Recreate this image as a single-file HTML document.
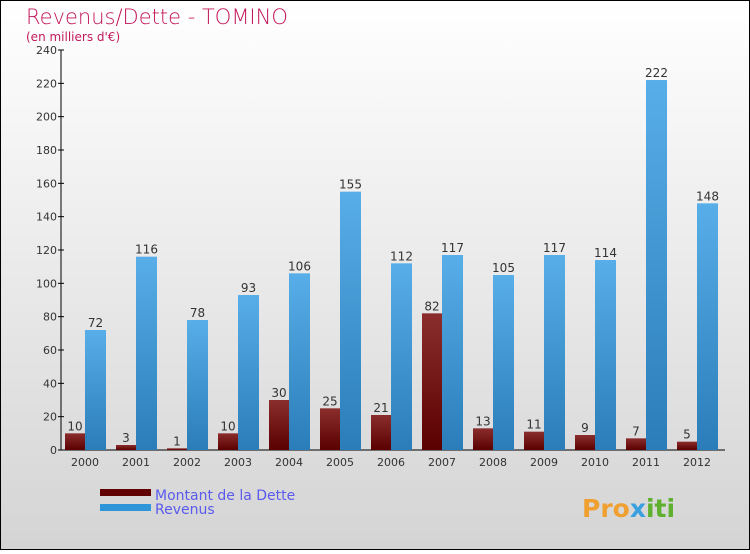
<!DOCTYPE html>
<html><head><meta charset="utf-8"><style>
html,body{margin:0;padding:0}
body{width:750px;height:550px;overflow:hidden;font-family:"DejaVu Sans","Liberation Sans",sans-serif}
</style></head><body>
<svg width="750" height="550" xmlns="http://www.w3.org/2000/svg">
<defs>
<linearGradient id="bg" x1="0" y1="0" x2="0" y2="1"><stop offset="0" stop-color="#ffffff"/><stop offset="1" stop-color="#d4d4d4"/></linearGradient>
<linearGradient id="gd" x1="0" y1="0" x2="0" y2="1"><stop offset="0" stop-color="#8b2d2d"/><stop offset="1" stop-color="#5a0000"/></linearGradient>
<linearGradient id="gr" x1="0" y1="0" x2="0" y2="1"><stop offset="0" stop-color="#58aee8"/><stop offset="1" stop-color="#2a7db8"/></linearGradient>
</defs>
<rect x="0.5" y="0.5" width="749" height="549" fill="url(#bg)" stroke="#000"/>
<text x="26" y="24" font-size="21" fill="#c2185b" style="font-weight:200">Revenus/Dette - TOMINO</text>
<text x="26" y="41" font-size="12" fill="#c2185b">(en milliers d'€)</text>
<g id="axes"></g>
<g id="bars"></g>
<rect x="100" y="489" width="51" height="7" fill="#600000"/>
<rect x="100" y="504" width="51" height="7" fill="#2e95d8"/>
<text x="155" y="500" font-size="14" fill="#5a5aee">Montant de la Dette</text>
<text x="155" y="514" font-size="14" fill="#5a5aee">Revenus</text>
<text x="582" y="517" font-size="25" font-weight="bold" fill="#f0a030">Pro<tspan fill="#3aa0e0">x</tspan><tspan fill="#60b030">iti</tspan></text>
</svg>
<script>
const years=["2000","2001","2002","2003","2004","2005","2006","2007","2008","2009","2010","2011","2012"];
const dette=[10,3,1,10,30,25,21,82,13,11,9,7,5];
const revenus=[72,116,78,93,106,155,112,117,105,117,114,222,148];
const yTicks=[0,20,40,60,80,100,120,140,160,180,200,220,240];
const NS="http://www.w3.org/2000/svg";
const y0=450,pxPer=400/240,x0=85,step=51;
const yS=v=>y0-v*pxPer, xS=i=>x0+i*step;
function mk(tag,attrs,parent,txt){const e=document.createElementNS(NS,tag);for(const k in attrs)e.setAttribute(k,attrs[k]);if(txt!==undefined)e.textContent=txt;parent.appendChild(e);return e;}
const ax=document.getElementById('axes'),bg=document.getElementById('bars');
let l=mk('line',{x1:61,y1:50,x2:61,y2:450,stroke:'#000'},ax);


l=mk('line',{x1:61,y1:450,x2:725,y2:450,stroke:'#000'},ax);


yTicks.forEach(t=>{const y=yS(t);
 const tk=mk('line',{x1:58,y1:y,x2:64,y2:y,stroke:'#000'},ax);
 
 
 const tx=mk('text',{x:57,y:y+4,'font-size':11,'text-anchor':'end',fill:'#333'},ax,t);
 
 });
years.forEach((yr,i)=>{const cx=xS(i);
 const t=mk('text',{x:cx,y:466,'font-size':11,'text-anchor':'middle',fill:'#333'},ax,yr);
 
 
 const d=mk('rect',{x:cx-20,y:yS(dette[i]),width:20,height:dette[i]*pxPer,fill:'url(#gd)'},bg);
 
 
 const r=mk('rect',{x:cx,y:yS(revenus[i]),width:21,height:revenus[i]*pxPer,fill:'url(#gr)'},bg);
 
 
 const dl=mk('text',{x:cx-10,y:yS(dette[i])-3,'font-size':12,'text-anchor':'middle',fill:'#333'},bg,dette[i]);
 
 
 const rl=mk('text',{x:cx+10.5,y:yS(revenus[i])-3,'font-size':12,'text-anchor':'middle',fill:'#333'},bg,revenus[i]);
 
 
});
</script>
</body></html>
